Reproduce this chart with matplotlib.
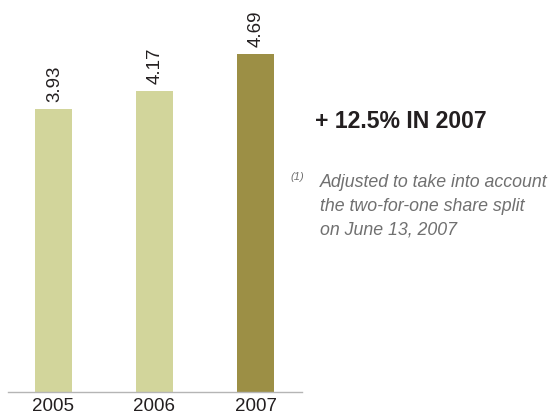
import matplotlib.pyplot as plt

years = ['2005', '2006', '2007']
values = [3.93, 4.17, 4.69]
colors = ['#d2d59b', '#d2d59b', '#9c8f45']

plt.rcParams['font.family'] = ['Liberation Sans', 'DejaVu Sans']

fig = plt.figure(figsize=(5.53, 4.17), dpi=100)
ax = fig.add_axes([8 / 553, 25 / 417, 294 / 553, 392 / 417])

x = range(len(years))
ax.bar(x, values, width=0.366, color=colors)

for xi, v in zip(x, values):
    ax.annotate(f'{v:.2f}', (xi, v), xytext=(0.7, 5), textcoords='offset points',
                rotation=90, ha='center', va='bottom', fontsize=13.5,
                color='#231f20')

ax.set_xlim(-0.45, 2.46)
ax.set_ylim(0, 392 / 72.1)
ax.set_xticks(list(x))
ax.set_xticklabels(years, fontsize=13.5, color='#231f20')
ax.tick_params(axis='x', length=0, pad=4.5)
ax.set_yticks([])
for s in ['top', 'right', 'left']:
    ax.spines[s].set_visible(False)
ax.spines['bottom'].set_color('#b5b5b5')
ax.spines['bottom'].set_linewidth(1.0)

fig.text(315 / 553, 1 - 122 / 417, '+ 12.5% IN 2007', fontsize=16.6, fontweight='bold',
         color='#231f20', va='center', ha='left')
fig.text(290 / 553, 1 - 177 / 417, '(1)', fontsize=8, style='italic',
         color='#707070', va='center', ha='left')
fig.text(320 / 553, 1 - 174 / 417,
         'Adjusted to take into account\nthe two-for-one share split\non June 13, 2007',
         fontsize=12.8, style='italic', color='#707070', va='top', ha='left',
         linespacing=1.5)

fig.savefig('out.png', dpi=100)
